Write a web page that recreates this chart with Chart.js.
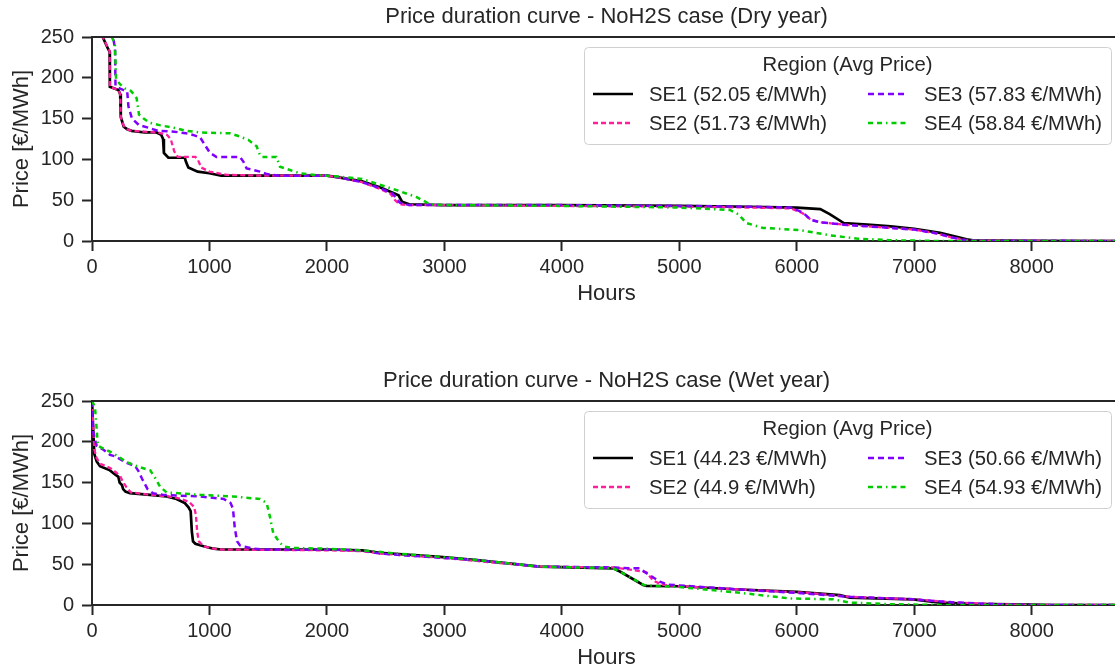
<!DOCTYPE html>
<html>
<head>
<meta charset="utf-8">
<script src="https://cdn.jsdelivr.net/npm/chart.js@4.4.1/dist/chart.umd.min.js"></script>
<style>
  body { margin: 0; background: #fff; width: 1115px; height: 669px; overflow: hidden; position: relative; }
  .panel { position: absolute; left: 0; }
</style>
</head>
<body>
<div class="panel" style="top:0"><canvas id="dry" width="1130" height="310"></canvas></div>
<div class="panel" style="top:364px"><canvas id="wet" width="1130" height="310"></canvas></div>
<script>
// price duration curves, [hour, price] breakpoints
const drySE1 = [[0,330],[75,255],[138,235],[150,232],[152,189],[225,185],[240,180],[245,152],[270,140],[300,137],[337,135],[450,133],[550,133],[590,130],[605,125],[612,108],[650,102],[790,102],[800,97],[820,90],[900,85],[1000,83],[1100,80],[1500,80],[2000,80],[2100,78],[2300,73],[2450,66],[2560,59],[2610,56],[2640,48],[2700,45],[3000,44],[4000,44],[5000,43],[5600,42],[6000,41],[6200,39],[6280,33],[6400,22],[6600,20],[6800,18],[7000,15],[7220,10],[7360,5],[7445,2],[7500,0.8],[8000,0.3],[8760,0]];
const drySE2 = [[0,330],[75,255],[138,236],[150,233],[152,189],[225,185],[240,180],[245,152],[270,141],[300,137],[337,135],[450,134],[560,133],[640,130],[670,125],[700,110],[730,103],[880,103],[900,100],[930,90],[1000,85],[1150,81],[1500,80],[2000,80],[2100,78],[2300,72],[2450,64],[2540,58],[2580,50],[2620,45],[2700,44],[3000,44],[4000,43],[5000,42],[5600,41],[5950,40],[6050,34],[6120,26],[6200,23],[6400,20],[6700,17],[7000,14],[7200,9],[7300,5],[7400,2],[7460,0.5],[8000,0.3],[8760,0]];
const drySE3 = [[0,340],[120,262],[180,250],[196,235],[200,190],[250,186],[300,183],[310,165],[340,150],[400,142],[500,138],[560,135],[700,134],[800,132],[860,130],[920,127],[960,118],[1004,108],[1060,103],[1260,103],[1290,97],[1316,89],[1430,85],[1490,82],[1600,80],[2000,80],[2100,78],[2300,72],[2450,65],[2560,58],[2620,47],[2700,44],[3000,44],[4000,44],[5000,43],[5600,42],[5950,41],[6050,35],[6120,26],[6200,23],[6400,20],[6700,17],[7000,14],[7200,9],[7300,5],[7400,2],[7460,0.5],[8000,0.3],[8760,0]];
const drySE4 = [[0,345],[150,262],[168,250],[195,242],[205,198],[240,192],[280,187],[330,184],[355,180],[380,175],[400,155],[440,150],[490,145],[575,142],[720,138],[800,135],[920,133],[1174,132],[1240,129],[1330,124],[1402,116],[1430,105],[1450,103],[1570,103],[1600,91],[1685,87],[1770,83],[1900,81],[2100,79],[2300,76],[2450,69],[2600,62],[2760,54],[2880,45],[3000,44],[4000,43],[5000,41],[5430,38],[5500,33],[5572,22],[5713,16],[6025,13.5],[6281,7],[6508,3],[6790,1],[7200,0],[8760,0]];

const wetSE1 = [[0,250],[10,215],[20,185],[40,176],[68,170],[153,165],[196,160],[225,157],[235,150],[255,147],[265,142],[285,139],[323,137],[493,135],[635,133],[720,130],[790,125],[820,120],[840,115],[850,90],[860,78],[880,75],[950,72],[1035,69],[1100,68],[2000,68],[2300,67],[2451,64],[2962,59],[3274,55],[3813,47],[4437,45],[4494,41],[4692,24.5],[4720,23.5],[5000,23],[5515,19],[6000,16],[6366,12],[6451,9],[6990,7],[7219,3],[7500,1.5],[8000,0.5],[8200,0],[8760,0]];
const wetSE2 = [[0,250],[10,220],[20,190],[40,180],[70,173],[153,168],[200,163],[240,158],[260,152],[290,145],[330,138],[500,135],[650,133],[760,130],[830,126],[870,120],[885,110],[895,90],[910,78],[950,72],[1035,69],[1100,68],[2000,67],[2300,66],[2451,63],[2962,58],[3274,54],[3813,47],[4437,46],[4600,43],[4720,40],[4777,30],[4850,25],[5000,23],[5515,19],[6083,15],[6451,10],[6990,7],[7360,3],[7700,1],[8000,0],[8760,0]];
const wetSE3 = [[0,250],[10,212],[40,195],[100,190],[153,184],[200,182],[283,175],[369,170],[400,163],[425,155],[473,142],[520,137],[600,135],[920,133],[1120,130],[1180,125],[1200,118],[1215,95],[1235,78],[1260,73],[1370,69],[1450,68],[2000,68],[2300,67],[2451,63],[2962,58],[3274,55],[3813,47],[4437,46],[4600,45],[4664,45],[4720,39],[4834,28.6],[4900,25],[5000,24],[5515,19],[6083,14],[6451,10],[6990,7],[7360,3],[7700,1],[8000,0],[8760,0]];
const wetSE4 = [[0,250],[25,243],[40,215],[50,195],[153,188],[212,183],[298,175],[383,170],[496,165],[540,155],[580,145],[635,138],[920,135],[1200,133],[1430,130],[1487,125],[1515,108],[1543,88],[1600,76],[1643,71.5],[1700,70],[2000,69],[2300,67],[2600,63],[2962,59],[3274,55],[3813,47],[4437,45],[4494,41],[4692,25],[4720,24],[5000,22],[5515,15],[5940,8],[6310,7],[6451,3],[6800,1],[7000,0.5],[7300,0],[8760,0]];

const regions = ['SE1', 'SE2', 'SE3', 'SE4'];
const dryAvg = [52.05, 51.73, 57.83, 58.84];
const wetAvg = [44.23, 44.9, 50.66, 54.93];
const hourTicks = [0, 1000, 2000, 3000, 4000, 5000, 6000, 7000, 8000];
const priceTicks = [0, 50, 100, 150, 200, 250];

// styling
const lineColors = ['#000000', '#ff1f9b', '#8000ff', '#00cc00'];
const lineDashes = [[], [5, 3], [6, 4], [5, 4, 5, 4, 1.5, 4]];
const lineWidths = [2.7, 2.3, 2.5, 2.5];
const TEXT = '#262626';
const FONT = '20.3px Arial, "Liberation Sans", sans-serif';

Chart.defaults.font.family = 'Arial, "Liberation Sans", sans-serif';
Chart.defaults.font.size = 20;
Chart.defaults.color = TEXT;

// top and right spines
const frame = {
  id: 'frame',
  afterDraw(chart) {
    const { ctx, chartArea: a } = chart;
    ctx.save();
    ctx.strokeStyle = TEXT;
    ctx.lineWidth = 2;
    ctx.beginPath();
    ctx.moveTo(a.left - 1, a.top);
    ctx.lineTo(a.right, a.top);
    ctx.lineTo(a.right, a.bottom);
    ctx.stroke();
    ctx.restore();
  }
};

// matplotlib style legend: title + two columns
const boxLegend = {
  id: 'boxLegend',
  afterDraw(chart) {
    const { ctx, chartArea } = chart;
    const w = 527, h = 97;
    const x0 = chartArea.right - 10 - w, y0 = chartArea.top + 10;
    ctx.save();
    ctx.beginPath();
    ctx.roundRect(x0 + 0.5, y0 + 0.5, w, h, 4);
    ctx.fillStyle = 'rgba(255,255,255,0.8)';
    ctx.fill();
    ctx.strokeStyle = '#d0d0d0';
    ctx.lineWidth = 1;
    ctx.stroke();
    ctx.font = FONT;
    ctx.fillStyle = TEXT;
    ctx.textBaseline = 'middle';
    ctx.textAlign = 'center';
    ctx.fillText('Region (Avg Price)', x0 + w / 2, y0 + 18);
    ctx.textAlign = 'left';
    chart.data.datasets.forEach((ds, i) => {
      const col = Math.floor(i / 2), row = i % 2;
      const lx = x0 + 9 + col * 275, ly = y0 + 47 + row * 29;
      ctx.beginPath();
      ctx.setLineDash(ds.borderDash);
      ctx.lineWidth = ds.borderWidth;
      ctx.strokeStyle = ds.borderColor;
      ctx.moveTo(lx, ly);
      ctx.lineTo(lx + 40, ly);
      ctx.stroke();
      ctx.setLineDash([]);
      ctx.fillStyle = TEXT;
      ctx.fillText(ds.label, lx + 56, ly + 1);
    });
    ctx.restore();
  }
};

const axisGrid = { display: true, drawOnChartArea: false, drawTicks: true, tickLength: 10, tickColor: TEXT, tickWidth: 2 };
const axisBorder = { display: true, color: TEXT, width: 2 };

function makeChart(id, title, series, avg) {
  return new Chart(document.getElementById(id), {
    type: 'line',
    data: {
      datasets: series.map((pts, i) => ({
        label: regions[i] + ' (' + avg[i] + ' €/MWh)',
        data: pts.map(([x, y]) => ({ x, y })),
        borderColor: lineColors[i],
        borderDash: lineDashes[i],
        borderWidth: lineWidths[i],
        pointRadius: 0,
        tension: 0,
        fill: false,
        order: 3 - i
      }))
    },
    options: {
      responsive: false,
      animation: false,
      devicePixelRatio: 1,
      layout: { padding: { left: 0, right: 9, top: 0, bottom: 0 } },
      plugins: {
        legend: { display: false },
        tooltip: { enabled: false },
        title: {
          display: true, text: title, fullSize: false, color: TEXT,
          font: { size: 22, weight: 'normal' }, padding: { top: 4, bottom: 6.6 }
        }
      },
      scales: {
        x: {
          type: 'linear', min: 0, max: 8760,
          afterFit: s => { s.height = 69; },
          afterBuildTicks: s => { s.ticks = hourTicks.map(v => ({ value: v })); },
          ticks: { color: TEXT, padding: 4, maxRotation: 0, autoSkip: false, callback: v => String(v) },
          grid: axisGrid, border: axisBorder,
          title: { display: true, text: 'Hours', color: TEXT, font: { size: 22 }, padding: { top: 0, bottom: 3 } }
        },
        y: {
          min: 0, max: 250,
          afterFit: s => { s.width = 92; },
          afterBuildTicks: s => { s.ticks = priceTicks.map(v => ({ value: v })); },
          ticks: { color: TEXT, padding: 8, callback: v => String(v) },
          grid: axisGrid, border: axisBorder,
          title: { display: true, text: 'Price [€/MWh]', color: TEXT, font: { size: 22 }, padding: { top: 9, bottom: 0 } }
        }
      }
    },
    plugins: [frame, boxLegend]
  });
}

makeChart('dry', 'Price duration curve - NoH2S case (Dry year)', [drySE1, drySE2, drySE3, drySE4], dryAvg);
makeChart('wet', 'Price duration curve - NoH2S case (Wet year)', [wetSE1, wetSE2, wetSE3, wetSE4], wetAvg);
</script>
</body>
</html>
